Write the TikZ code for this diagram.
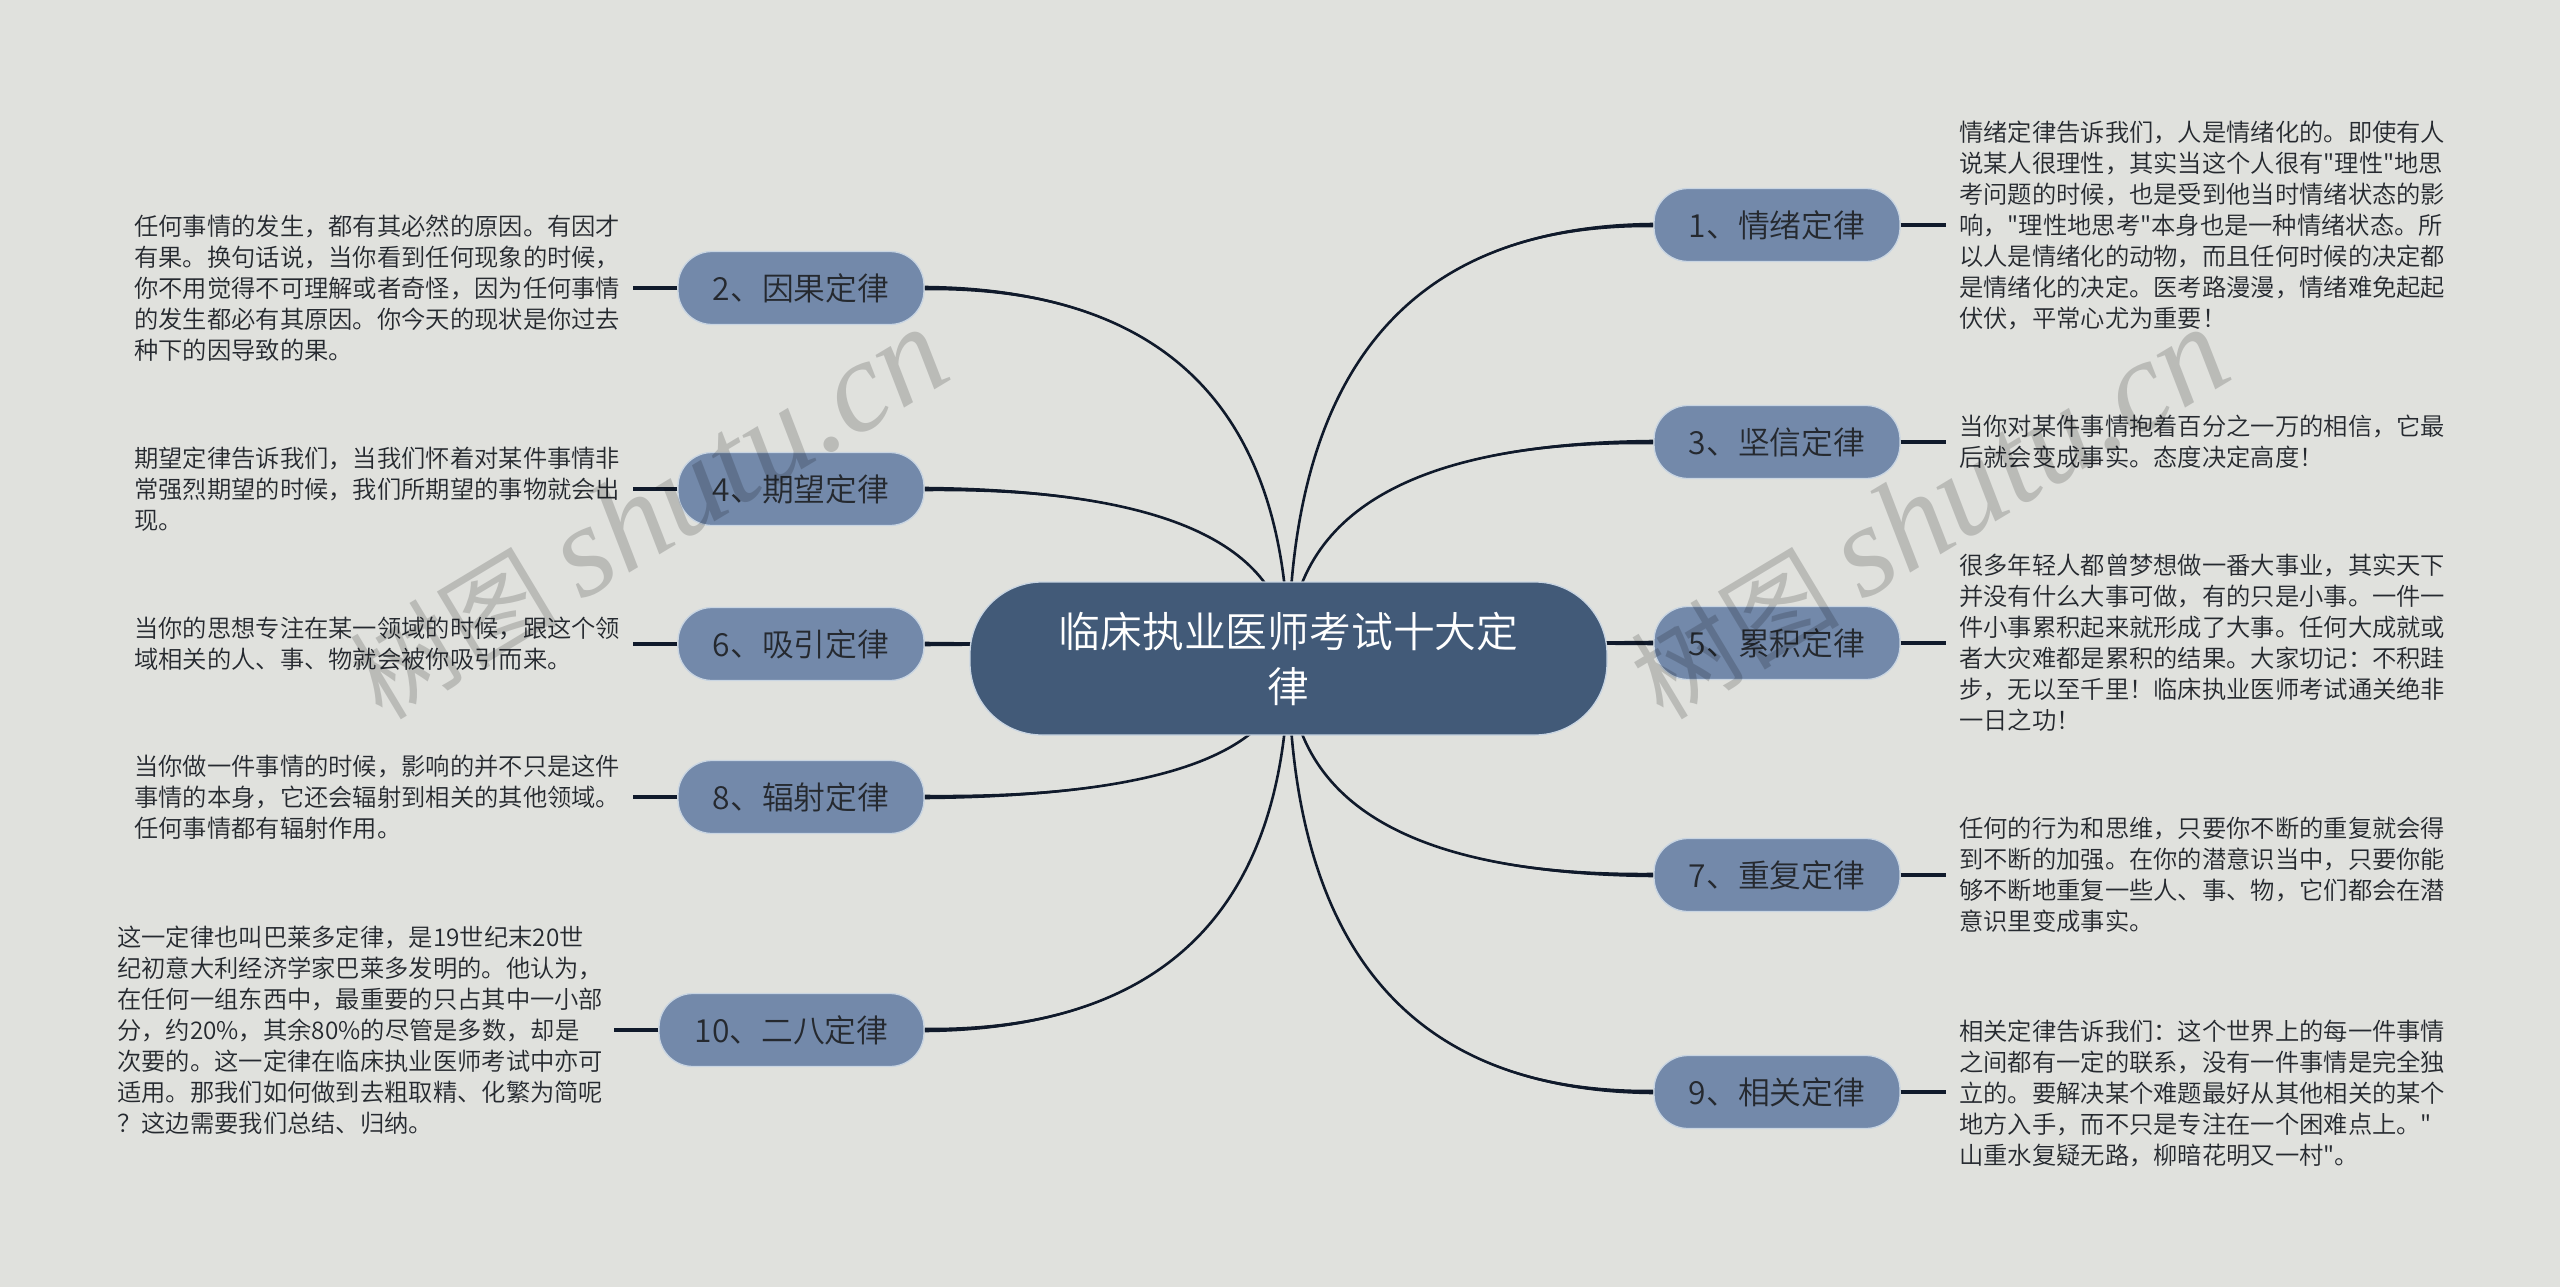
\documentclass[tikz,border=0pt]{standalone}
\usepackage{fontspec}
\newfontfamily\bodyfont{Noto Sans CJK SC}[UprightFont=* DemiLight]
\newfontfamily\wmlatin{Liberation Serif}
\newfontfamily\wmcjk{Noto Sans CJK SC}[AutoFakeSlant=0.22]
\usetikzlibrary{calc}
\pgfdeclarelayer{paper}
\pgfdeclarelayer{wires}
\pgfsetlayers{paper,wires,main}
\definecolor{bgc}{HTML}{E0E1DD}
\definecolor{wirec}{HTML}{101A2B}
\definecolor{rootc}{HTML}{425A78}
\definecolor{branchc}{HTML}{7389AA}
\definecolor{edgec}{HTML}{C9D5E2}
\definecolor{inkc}{HTML}{25292F}
\tikzset{
  rootbox/.style={draw=edgec,line width=1.3pt,fill=rootc,rounded corners=72pt,minimum width=637pt,minimum height=153pt,inner sep=0pt,align=center,text=white,font=\bodyfont\fontsize{41.8}{55}\selectfont},
  branch/.style={draw=edgec,line width=1.3pt,fill=branchc,rounded corners=34pt,minimum height=73pt,inner sep=0pt,text=inkc,font=\bodyfont\fontsize{31.8}{36}\selectfont},
  desc/.style={anchor=west,inner sep=0pt,align=left,text=inkc,font=\bodyfont\fontsize{24.3}{31}\selectfont},
  wire/.style={draw=wirec,line width=2.6pt},
  stub/.style={draw=wirec,line width=4pt},
  wmark/.style={inner sep=0pt,text=black,text opacity=0.17,rotate=31}
}
\newcommand{\bough}[1]{%
  \coordinate (k) at (root.center |- #1);
  \draw[wire] (root.center) .. controls ($(root.center)!0.667!(k)$) and ($(#1)!0.667!(k)$) .. (#1);
  \fill[wirec] (root.center) .. controls ($(root.center)!0.667!(k)$) and ($(#1)!0.667!(k)$) .. ($(#1)+(0,-2.3)$)
     -- ($(#1)+(0,2.3)$) .. controls ($(#1)!0.667!(k)$) and ($(root.center)!0.667!(k)$) .. (root.center) -- cycle;
}
\newcommand{\wmtext}{{\wmcjk\fontsize{104}{108}\selectfont 树图}\hspace{24pt}{\wmlatin\itshape\fontsize{130}{140}\selectfont shutu.cn}}
\begin{document}
\begin{tikzpicture}[x=1pt,y=-1pt]
\useasboundingbox (0,0) rectangle (2560,1287);
\begin{pgfonlayer}{paper}
\fill[bgc] (0,0) rectangle (2560,1287);
\end{pgfonlayer}
% centre and branches
\node[rootbox] (root) at (1288.5,658.5) {临床执业医师考试十大定\\律};
\node[branch,minimum width=246pt] (n2) at (801,288) {2、因果定律};
\node[branch,minimum width=246pt] (n4) at (801,489) {4、期望定律};
\node[branch,minimum width=246pt] (n6) at (801,644) {6、吸引定律};
\node[branch,minimum width=246pt] (n8) at (801,797) {8、辐射定律};
\node[branch,minimum width=265pt] (n10) at (791.5,1030) {10、二八定律};
\node[branch,minimum width=246pt] (n1) at (1777,225) {1、情绪定律};
\node[branch,minimum width=246pt] (n3) at (1777,442) {3、坚信定律};
\node[branch,minimum width=246pt] (n5) at (1777,643) {5、累积定律};
\node[branch,minimum width=246pt] (n7) at (1777,875) {7、重复定律};
\node[branch,minimum width=246pt] (n9) at (1777,1092) {9、相关定律};
% connectors from the centre, beneath the nodes
\begin{pgfonlayer}{wires}
\bough{n1.west}\bough{n3.west}\bough{n5.west}\bough{n7.west}\bough{n9.west}
\bough{n2.east}\bough{n4.east}\bough{n6.east}\bough{n8.east}\bough{n10.east}
\end{pgfonlayer}
% descriptions
\node[desc] (t1) at (1959,225) {情绪定律告诉我们，人是情绪化的。即使有人\\说某人很理性，其实当这个人很有"理性"地思\\考问题的时候，也是受到他当时情绪状态的影\\响，"理性地思考"本身也是一种情绪状态。所\\以人是情绪化的动物，而且任何时候的决定都\\是情绪化的决定。医考路漫漫，情绪难免起起\\伏伏，平常心尤为重要！};
\node[desc] (t3) at (1959,442) {当你对某件事情抱着百分之一万的相信，它最\\后就会变成事实。态度决定高度！};
\node[desc] (t5) at (1959,643) {很多年轻人都曾梦想做一番大事业，其实天下\\并没有什么大事可做，有的只是小事。一件一\\件小事累积起来就形成了大事。任何大成就或\\者大灾难都是累积的结果。大家切记：不积跬\\步，无以至千里！临床执业医师考试通关绝非\\一日之功！};
\node[desc] (t7) at (1959,875) {任何的行为和思维，只要你不断的重复就会得\\到不断的加强。在你的潜意识当中，只要你能\\够不断地重复一些人、事、物，它们都会在潜\\意识里变成事实。};
\node[desc] (t9) at (1959,1093) {相关定律告诉我们：这个世界上的每一件事情\\之间都有一定的联系，没有一件事情是完全独\\立的。要解决某个难题最好从其他相关的某个\\地方入手，而不只是专注在一个困难点上。"\\山重水复疑无路，柳暗花明又一村"。};
\node[desc] (t2) at (134,288) {任何事情的发生，都有其必然的原因。有因才\\有果。换句话说，当你看到任何现象的时候，\\你不用觉得不可理解或者奇怪，因为任何事情\\的发生都必有其原因。你今天的现状是你过去\\种下的因导致的果。};
\node[desc] (t4) at (134,489) {期望定律告诉我们，当我们怀着对某件事情非\\常强烈期望的时候，我们所期望的事物就会出\\现。};
\node[desc] (t6) at (134,644) {当你的思想专注在某一领域的时候，跟这个领\\域相关的人、事、物就会被你吸引而来。};
\node[desc] (t8) at (134,797) {当你做一件事情的时候，影响的并不只是这件\\事情的本身，它还会辐射到相关的其他领域。\\任何事情都有辐射作用。};
\node[desc] (t10) at (117,1030) {这一定律也叫巴莱多定律，是19世纪末20世\\纪初意大利经济学家巴莱多发明的。他认为，\\在任何一组东西中，最重要的只占其中一小部\\分，约20\%，其余80\%的尽管是多数，却是\\次要的。这一定律在临床执业医师考试中亦可\\适用。那我们如何做到去粗取精、化繁为简呢\\？这边需要我们总结、归纳。};
% stubs between branches and descriptions
\coordinate (s1) at (1946,225);
\coordinate (s3) at (1946,442);
\coordinate (s5) at (1946,643);
\coordinate (s7) at (1946,875);
\coordinate (s9) at (1946,1092);
\coordinate (s2) at (633,288);
\coordinate (s4) at (633,489);
\coordinate (s6) at (633,644);
\coordinate (s8) at (633,797);
\coordinate (s10) at (613.5,1030);
\draw[stub] (n1.east) -- (s1);
\draw[stub] (n3.east) -- (s3);
\draw[stub] (n5.east) -- (s5);
\draw[stub] (n7.east) -- (s7);
\draw[stub] (n9.east) -- (s9);
\draw[stub] (n2.west) -- (s2);
\draw[stub] (n4.west) -- (s4);
\draw[stub] (n6.west) -- (s6);
\draw[stub] (n8.west) -- (s8);
\draw[stub] (n10.west) -- (s10);
% watermarks
\node[wmark] (w1) at (648.5,514) {\wmtext};
\node[wmark] (w2) at (1929.5,514) {\wmtext};
\end{tikzpicture}
\end{document}
